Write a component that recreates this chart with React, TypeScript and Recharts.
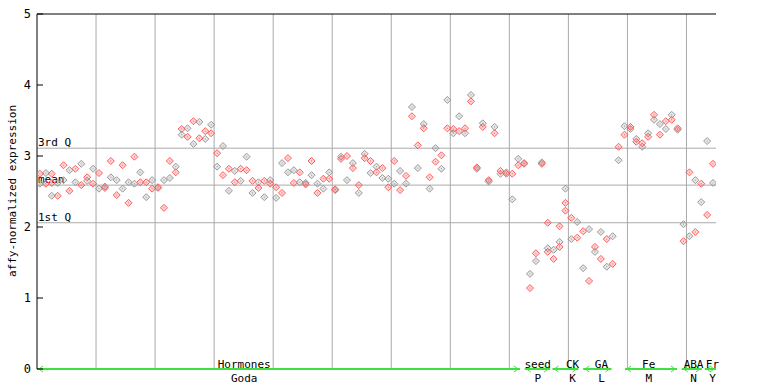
import { ScatterChart, Scatter, XAxis, YAxis, ReferenceLine } from 'recharts';

// two replicate values per sample slot (x = slot + 0.5)
const valuesA = [
  2.75, 2.76, 2.75, 2.62, 2.87, 2.8, 2.82, 2.89, 2.7, 2.82,
  2.76, 2.57, 2.93, 2.66, 2.87, 2.63, 2.99, 2.77, 2.63, 2.66,
  2.56, 2.66, 2.93, 2.85, 3.38, 3.39, 3.49, 3.48, 3.35, 3.44,
  3.04, 3.14, 2.82, 2.79, 2.82, 2.99, 2.65, 2.63, 2.65, 2.66,
  2.56, 2.9, 2.97, 2.8, 2.77, 2.62, 2.93, 2.61, 2.68, 2.77,
  2.53, 2.99, 3.0, 2.9, 2.59, 3.03, 2.93, 2.85, 2.83, 2.68,
  2.93, 2.79, 2.72, 3.69, 3.15, 3.45, 2.7, 3.11, 3.01, 3.79,
  3.38, 3.56, 3.39, 3.86, 2.84, 3.46, 2.66, 3.41, 2.79, 2.77,
  2.75, 2.96, 2.9, 1.34, 1.63, 2.91, 2.06, 1.68, 2.01, 2.54,
  2.13, 2.07, 1.94, 1.97, 1.72, 1.93, 1.83, 1.87, 3.13, 3.42,
  3.41, 3.24, 3.18, 3.32, 3.58, 3.45, 3.49, 3.58, 3.39, 2.04,
  2.77, 2.66, 2.61, 3.21, 2.89,
];
const valuesB = [
  2.61, 2.61, 2.44, 2.44, 2.66, 2.51, 2.63, 2.59, 2.65, 2.61,
  2.54, 2.55, 2.7, 2.45, 2.54, 2.34, 2.61, 2.63, 2.42, 2.54,
  2.55, 2.27, 2.69, 2.77, 3.3, 3.27, 3.17, 3.25, 3.24, 3.32,
  2.85, 2.73, 2.51, 2.63, 2.65, 2.8, 2.48, 2.55, 2.42, 2.61,
  2.41, 2.48, 2.77, 2.62, 2.63, 2.6, 2.73, 2.48, 2.54, 2.68,
  2.52, 2.96, 2.66, 2.83, 2.48, 2.97, 2.76, 2.77, 2.69, 2.56,
  2.61, 2.52, 2.61, 3.56, 2.83, 3.39, 2.54, 2.92, 2.82, 3.39,
  3.32, 3.35, 3.32, 3.77, 2.82, 3.41, 2.64, 3.32, 2.75, 2.75,
  2.39, 2.87, 2.89, 1.14, 1.52, 2.89, 1.7, 1.55, 1.79, 2.34,
  1.83, 1.85, 1.42, 1.24, 1.65, 1.55, 1.44, 1.48, 2.94, 3.3,
  3.38, 3.2, 3.13, 3.27, 3.51, 3.3, 3.38, 3.51, 3.37, 1.8,
  1.87, 1.93, 2.35, 2.17, 2.62,
];
const extraSlots = [2, 86, 88, 89];
const extraValues = [2.62, 1.65, 1.72, 2.23];

const groupNames = ['Hormones', 'seed', 'CK', 'GA', 'Fe', 'ABA', 'Fr'];
const subNames = ['Goda', 'P', 'K', 'L', 'M', 'N', 'Y'];
const groupStarts = [0, 82.6, 87.3, 92.5, 99.6, 109.2, 113.1];
const groupEnds = [81.8, 86.9, 91.7, 97.3, 108.4, 112.6, 115];
const groupLabelAt = [35.1, 84.8, 90.7, 95.6, 103.6, 111.2, 114.4];

const quantileNames = ['3rd Q', 'mean', '1st Q'];
const quantileValues = [3.11, 2.59, 2.06];
const yTicks = [0, 1, 2, 3, 4, 5];
const gridX = [10, 20, 30, 40, 50, 60, 70, 80, 90, 100, 110];

const RED = '#ff5c5c';
const GRAY = '#9a9a9a';
const GREEN = '#3fe03f';
const FONT = '"DejaVu Sans Mono", monospace';

const redPoints: { x: number; y: number }[] = [];
const grayPoints: { x: number; y: number }[] = [];
valuesA.forEach((a, i) => {
  const b = valuesB[i];
  const x = i + 0.5;
  if (i % 2 === 0) {
    redPoints.push({ x, y: a });
    grayPoints.push({ x, y: b });
  } else {
    grayPoints.push({ x, y: a });
    redPoints.push({ x, y: b });
  }
});
extraSlots.forEach((s, i) => redPoints.push({ x: s + 0.5, y: extraValues[i] }));

const diamond = (color: string) => (props: any) => {
  const { cx, cy } = props;
  if (cx == null || cy == null) return <g />;
  const r = 3.5;
  return (
    <g>
      <polygon
        points={`${cx},${cy - r} ${cx + r},${cy} ${cx},${cy + r} ${cx - r},${cy}`}
        fill={color}
        fillOpacity={0.25}
        stroke={color}
        strokeWidth={1}
      />
      <rect x={cx - 0.5} y={cy - 0.5} width={1} height={1} fill={color} />
    </g>
  );
};

const GroupTick = (props: any) => {
  const { x, y, payload } = props;
  const i = groupLabelAt.indexOf(payload.value);
  if (i < 0) return <g />;
  return (
    <g fontFamily={FONT} fontSize={11} fill="#000">
      <text x={x} y={y - 3} textAnchor="middle">{groupNames[i]}</text>
      <text x={x} y={y + 11} textAnchor="middle">{subNames[i]}</text>
    </g>
  );
};

const ValueTick = (props: any) => {
  const { y, payload } = props;
  return (
    <text x={31} y={y} dy="0.35em" textAnchor="end" fontFamily={FONT} fontSize={12} fill="#000">
      {payload.value}
    </text>
  );
};

const ArrowSegment = (props: any) => {
  const { x1, y1, x2, y2 } = props;
  if (x1 == null) return <g />;
  return (
    <g stroke={GREEN} fill="none">
      <line x1={x1} y1={y1} x2={x2} y2={y2} strokeWidth={2} />
      <polyline points={`${x1 + 6},${y1 - 3} ${x1 + 2},${y1} ${x1 + 6},${y1 + 3}`} strokeWidth={1} />
      <polyline points={`${x2 - 6},${y2 - 3} ${x2 - 2},${y2} ${x2 - 6},${y2 + 3}`} strokeWidth={1} />
    </g>
  );
};

const YTitle = () => (
  <text
    x={12}
    y={191}
    transform="rotate(-90 12 191)"
    textAnchor="middle"
    dominantBaseline="central"
    fontFamily={FONT}
    fontSize={11}
    fill="#000"
  >
    affy-normalized expression
  </text>
);

const QuantileLabel = (name: string) => (props: any) => {
  const vb = props.viewBox || {};
  return (
    <text x={(vb.x ?? 37) + 1} y={(vb.y ?? 0) - 2} fontFamily={FONT} fontSize={11} fill="#000">
      {name}
    </text>
  );
};

export default function App() {
  return (
    <div style={{ position: 'absolute', left: 0, top: 0, background: '#fff' }}>
      <ScatterChart width={768} height={384} margin={{ top: 14, right: 52, bottom: 0, left: 0 }}>
        <XAxis
          type="number"
          dataKey="x"
          domain={[0, 115]}
          ticks={groupLabelAt}
          interval={0}
          tick={<GroupTick />}
          tickSize={0}
          tickLine={false}
          axisLine={false}
          height={15}
          allowDataOverflow
        />
        <YAxis
          type="number"
          dataKey="y"
          domain={[0, 5]}
          ticks={yTicks}
          width={37}
          tickSize={-6}
          axisLine={{ stroke: '#000' }}
          tickLine={{ stroke: '#000' }}
          tick={<ValueTick />}
          label={<YTitle />}
          allowDataOverflow
        />
        <YAxis
          yAxisId="right"
          orientation="right"
          type="number"
          domain={[0, 5]}
          ticks={yTicks}
          width={0}
          tickSize={-6}
          tick={false}
          axisLine={{ stroke: '#000' }}
          tickLine={{ stroke: '#000' }}
        />
        {gridX.map((g) => (
          <ReferenceLine key={'gx' + g} x={g} stroke="#aaaaaa" strokeWidth={1} />
        ))}
        {quantileValues.map((q, i) => (
          <ReferenceLine
            key={'q' + i}
            y={q}
            stroke="#aaaaaa"
            strokeWidth={1}
            label={QuantileLabel(quantileNames[i])}
          />
        ))}
        <ReferenceLine y={5} stroke="#000" strokeWidth={1} />
        {groupStarts.map((s, i) => (
          <ReferenceLine
            key={'seg' + i}
            segment={[
              { x: s, y: 0 },
              { x: groupEnds[i], y: 0 },
            ]}
            ifOverflow="visible"
            shape={ArrowSegment}
          />
        ))}
        <Scatter data={grayPoints} isAnimationActive={false} shape={diamond(GRAY)} />
        <Scatter data={redPoints} isAnimationActive={false} shape={diamond(RED)} />
      </ScatterChart>
    </div>
  );
}
